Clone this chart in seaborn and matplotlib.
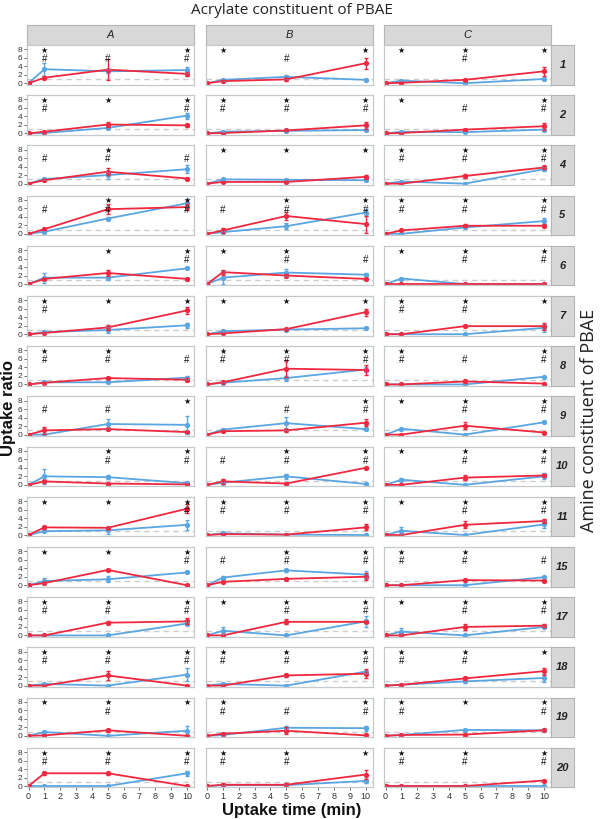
import pandas as pd
import matplotlib
matplotlib.use('Agg')
import matplotlib.pyplot as plt
import seaborn as sns

# ---- data (values at t = 1, 5, 10 min; t = 0 is always 0) ----
TIMES = [0, 1, 5, 10]
AMINES = ['1', '2', '4', '5', '6', '7', '8', '9', '10', '11', '15', '17', '18', '19', '20']
ACRYLATES = ['A', 'B', 'C']

RED_A = [[1.3, 3.2, 2.2], [0.4, 2.1, 1.9], [0.8, 2.8, 1.2], [1.1, 5.8, 6.3], [1.2, 2.6, 1.2],
         [0.3, 1.6, 5.6], [0.4, 1.5, 1.1], [1.0, 1.3, 0.6], [0.8, 0.3, 0.1], [1.8, 1.7, 6.2],
         [0.5, 3.6, 0.0], [0.0, 3.0, 3.3], [0.0, 2.4, 0.0], [0.1, 1.3, 0.0], [3.0, 3.0, 0.0]]
RED_ERR_A = [[0.3, 2.4, 0.5], [0.2, 0.5, 0.4], [0.2, 0.8, 0.2], [0.3, 1.2, 0.8], [0.3, 0.8, 0.2],
             [0.2, 0.6, 0.8], [0.1, 0.3, 0.3], [0.8, 0.3, 0.3], [0.3, 0.1, 0.1], [0.4, 0.2, 1.0],
             [0.2, 0.3, 0.1], [0.1, 0.3, 0.7], [0.1, 1.0, 0.1], [0.1, 0.3, 0.1], [0.3, 0.3, 0.1]]
BLUE_A = [[3.3, 2.8, 3.1], [0.1, 1.3, 4.2], [1.1, 2.0, 3.4], [0.5, 3.6, 7.2], [1.5, 1.5, 3.7],
          [0.5, 1.0, 2.1], [0.5, 0.5, 1.6], [0.0, 2.5, 2.3], [2.0, 1.8, 0.4], [0.9, 1.1, 2.4],
          [1.0, 1.4, 3.0], [0.0, 0.0, 2.8], [0.4, 0.0, 2.6], [0.9, 0.0, 1.2], [0.0, 0.0, 3.0]]
BLUE_ERR_A = [[1.5, 0.5, 0.8], [0.1, 0.2, 0.7], [0.2, 0.8, 0.9], [0.2, 0.3, 1.0], [1.2, 0.5, 0.2],
              [0.2, 0.6, 0.6], [0.2, 0.2, 0.3], [0.1, 1.2, 2.2], [1.7, 0.5, 0.2], [0.2, 0.8, 1.2],
              [0.7, 0.7, 0.2], [0.1, 0.1, 0.3], [0.2, 0.1, 1.5], [0.2, 0.1, 1.2], [0.1, 0.1, 0.6]]

RED_B = [[0.5, 0.9, 4.7], [0.1, 0.7, 1.9], [0.4, 0.4, 1.6], [0.8, 4.2, 2.3], [2.8, 2.0, 1.2],
         [0.2, 1.2, 5.2], [0.5, 3.7, 3.4], [0.8, 1.0, 2.8], [0.8, 0.3, 4.0], [0.2, 0.1, 1.8],
         [0.8, 1.5, 2.0], [0.0, 3.2, 3.2], [0.0, 2.4, 2.8], [0.5, 1.2, 0.1], [0.3, 0.3, 2.7]]
RED_ERR_B = [[0.2, 0.3, 1.3], [0.1, 0.2, 0.8], [0.1, 0.2, 0.4], [0.6, 1.0, 2.0], [0.6, 0.4, 0.2],
             [0.1, 0.2, 0.8], [0.2, 2.0, 1.2], [0.2, 0.4, 0.8], [0.6, 0.1, 0.2], [0.1, 0.1, 0.7],
             [0.2, 0.3, 0.8], [0.1, 0.6, 0.3], [0.1, 0.3, 1.0], [0.2, 0.8, 0.1], [0.3, 0.3, 1.0]]
BLUE_B = [[0.8, 1.5, 0.8], [0.4, 0.6, 0.8], [1.0, 0.9, 0.8], [0.4, 1.8, 5.0], [1.5, 2.7, 2.2],
          [0.7, 1.1, 1.4], [0.4, 1.5, 3.5], [1.2, 2.7, 1.3], [0.5, 2.0, 0.2], [0.4, 0.1, 0.0],
          [1.8, 3.5, 2.5], [1.1, 0.0, 3.3], [0.4, 0.0, 3.3], [0.2, 1.9, 1.8], [0.2, 0.2, 1.2]]
BLUE_ERR_B = [[0.2, 0.4, 0.2], [0.1, 0.2, 0.2], [0.2, 0.2, 0.2], [0.2, 0.7, 0.8], [1.5, 0.8, 0.3],
              [0.2, 0.2, 0.2], [0.1, 0.6, 0.6], [0.2, 1.5, 0.2], [0.2, 0.6, 0.1], [0.3, 0.1, 0.1],
              [0.4, 0.3, 0.8], [0.8, 0.1, 1.2], [0.2, 0.1, 0.4], [0.1, 0.3, 0.6], [0.1, 0.1, 0.4]]

RED_C = [[0.1, 0.8, 2.8], [0.1, 0.9, 1.7], [0.0, 1.8, 3.8], [0.8, 1.9, 1.9], [0.0, 0.0, 0.0],
         [0.0, 1.9, 1.9], [0.0, 0.7, 0.2], [0.0, 2.1, 0.5], [0.0, 1.7, 2.2], [0.0, 2.4, 3.3],
         [0.0, 1.2, 1.1], [0.0, 2.0, 2.3], [0.2, 1.7, 3.4], [0.2, 0.3, 1.3], [0.0, 0.0, 1.3]]
RED_ERR_C = [[0.1, 0.2, 1.0], [0.1, 0.2, 0.8], [0.1, 0.5, 0.3], [0.2, 0.3, 0.3], [0.1, 0.1, 0.1],
             [0.1, 0.2, 0.8], [0.1, 0.3, 0.1], [0.1, 0.8, 0.1], [0.1, 0.6, 0.3], [0.1, 0.8, 0.5],
             [0.1, 0.2, 0.2], [0.1, 0.7, 0.3], [0.1, 0.3, 0.8], [0.1, 0.1, 0.2], [0.1, 0.1, 0.2]]
BLUE_C = [[0.6, 0.0, 1.0], [0.4, 0.3, 0.9], [0.5, 0.0, 3.4], [0.0, 1.5, 3.0], [1.3, 0.0, 0.0],
          [0.0, 0.0, 1.5], [0.0, 0.0, 1.8], [1.4, 0.0, 2.9], [1.2, 0.0, 2.0], [1.0, 0.0, 2.5],
          [0.0, 0.0, 1.9], [0.9, 0.0, 2.0], [0.2, 1.0, 1.8], [0.2, 1.4, 1.3], [0.0, 0.0, 0.0]]
BLUE_ERR_C = [[0.2, 0.1, 0.2], [0.1, 0.1, 0.2], [0.1, 0.1, 0.4], [0.1, 0.2, 0.8], [0.2, 0.1, 0.1],
              [0.1, 0.1, 0.9], [0.1, 0.1, 0.2], [0.2, 0.1, 0.2], [0.4, 0.1, 0.7], [0.8, 0.1, 0.8],
              [0.1, 0.1, 0.3], [0.8, 0.1, 0.3], [0.1, 0.3, 1.0], [0.1, 0.2, 0.2], [0.1, 0.1, 0.1]]

# significance marks at t = 1, 5, 10 ('1' = shown)
STAR_A = ['101', '111', '010', '011', '011', '111', '110', '001', '011', '111', '111', '111', '111', '111', '111']
HASH_A = ['111', '101', '111', '111', '001', '100', '111', '110', '011', '001', '001', '111', '111', '010', '111']
STAR_B = ['101', '111', '111', '011', '110', '111', '111', '001', '011', '111', '011', '111', '111', '101', '111']
HASH_B = ['010', '111', '000', '111', '011', '000', '111', '011', '111', '111', '111', '011', '111', '111', '110']
STAR_C = ['111', '101', '111', '111', '111', '111', '101', '111', '111', '111', '110', '111', '111', '111', '111']
HASH_C = ['010', '011', '111', '111', '011', '110', '111', '011', '011', '011', '111', '011', '110', '101', '111']

RED = '#f0283f'
BLUE = '#5aa6e2'
STRIP = '#d8d8d8'
FRAME = '#c3c9cd'

sns.set_theme(style='white')
plt.rcParams['font.family'] = ['Liberation Sans', 'DejaVu Sans']

W, H = 600, 819
fig = plt.figure(figsize=(6, 8.19), dpi=100)


def box(x0, y0, x1, y1):
    """Pixel box (top-left origin) -> figure fraction rect."""
    return [x0 / W, 1 - y1 / H, (x1 - x0) / W, (y1 - y0) / H]


def strip(rect, label, weight='normal'):
    sax = fig.add_axes(rect)
    sax.set_facecolor(STRIP)
    sax.set_xticks([])
    sax.set_yticks([])
    for s in sax.spines.values():
        s.set_color('#b5b5b5')
        s.set_linewidth(0.8)
    sax.text(0.5, 0.5, label, ha='center', va='center', fontsize=8,
             style='italic', fontweight=weight, transform=sax.transAxes, color='#222222')


COL_LEFT = [27, 205.5, 384]
COL_W = 167
columns = {
    'A': (RED_A, RED_ERR_A, BLUE_A, BLUE_ERR_A, STAR_A, HASH_A),
    'B': (RED_B, RED_ERR_B, BLUE_B, BLUE_ERR_B, STAR_B, HASH_B),
    'C': (RED_C, RED_ERR_C, BLUE_C, BLUE_ERR_C, STAR_C, HASH_C),
}

for j, acr in enumerate(ACRYLATES):
    x0 = COL_LEFT[j]
    strip(box(x0, 25, x0 + COL_W, 44.5), acr)
    red, red_err, blue, blue_err, stars, hashes = columns[acr]
    for i, amine in enumerate(AMINES):
        zero = 83 + 50.2 * i
        top, bot = zero - 38, zero + 1.5
        ax = fig.add_axes(box(x0, top, x0 + COL_W, bot))

        df = pd.DataFrame({
            'time': TIMES * 2,
            'ratio': [0] + blue[i] + [0] + red[i],
            'series': ['blue'] * 4 + ['red'] * 4,
        })
        ax.axhline(1, color='#cccccc', ls=(0, (4, 3)), lw=1, zorder=0)
        sns.lineplot(data=df, x='time', y='ratio', hue='series', hue_order=['blue', 'red'],
                     palette={'blue': BLUE, 'red': RED}, marker='o', markersize=3.8,
                     markeredgewidth=0, linewidth=1.3, legend=False, errorbar=None, ax=ax)
        ax.errorbar(TIMES[1:], blue[i], yerr=blue_err[i], fmt='none', ecolor=BLUE,
                    elinewidth=1, capsize=1.6, capthick=1)
        ax.errorbar(TIMES[1:], red[i], yerr=red_err[i], fmt='none', ecolor=RED,
                    elinewidth=1, capsize=1.6, capthick=1)

        for k, t in enumerate(TIMES[1:]):
            if stars[i][k] == '1':
                ax.text(t, 7.75, '★', ha='center', va='center', fontsize=5.8,
                        color='#111111', family=['DejaVu Sans'])
            if hashes[i][k] == '1':
                ax.text(t, 5.7, '#', ha='center', va='center', fontsize=7, color='#111111')

        ax.set_xlim(-0.1, 10.44)
        ax.set_ylim(-0.3, 9.0)
        ax.set_xlabel('')
        ax.set_ylabel('')
        for s in ax.spines.values():
            s.set_color(FRAME)
            s.set_linewidth(0.9)
        ax.set_yticks([0, 2, 4, 6, 8])
        ax.set_xticks(range(11))
        ax.tick_params(length=2, width=0.6, color='#555555', labelsize=6.5,
                       labelcolor='#333333', pad=1.5)
        if j > 0:
            ax.tick_params(axis='y', left=False, labelleft=False)
        else:
            ax.tick_params(axis='y', left=True, labelsize=6)
        if i < len(AMINES) - 1:
            ax.tick_params(axis='x', bottom=False, labelbottom=False)
        else:
            ax.tick_params(axis='x', bottom=True)

        if j == len(ACRYLATES) - 1:
            strip(box(551, top, 574, bot), amine, weight='bold')

fig.text(292 / W, 1 - 11 / H, 'Acrylate constituent of PBAE', ha='center', va='center',
         fontsize=11, color='#222222', family=['Open Sans', 'DejaVu Sans'])
fig.text(589 / W, 1 - 420 / H, 'Amine constituent of PBAE', ha='center', va='center',
         rotation=90, fontsize=13, color='#222222', family=['Open Sans', 'DejaVu Sans'])
fig.text(8.5 / W, 1 - 408 / H, 'Uptake ratio', ha='center', va='center', rotation=90,
         fontsize=12, fontweight='bold', color='#111111')
fig.text(292 / W, 1 - 810 / H, 'Uptake time (min)', ha='center', va='center',
         fontsize=12, fontweight='bold', color='#111111')

fig.savefig('out.png', dpi=100, facecolor='white')
